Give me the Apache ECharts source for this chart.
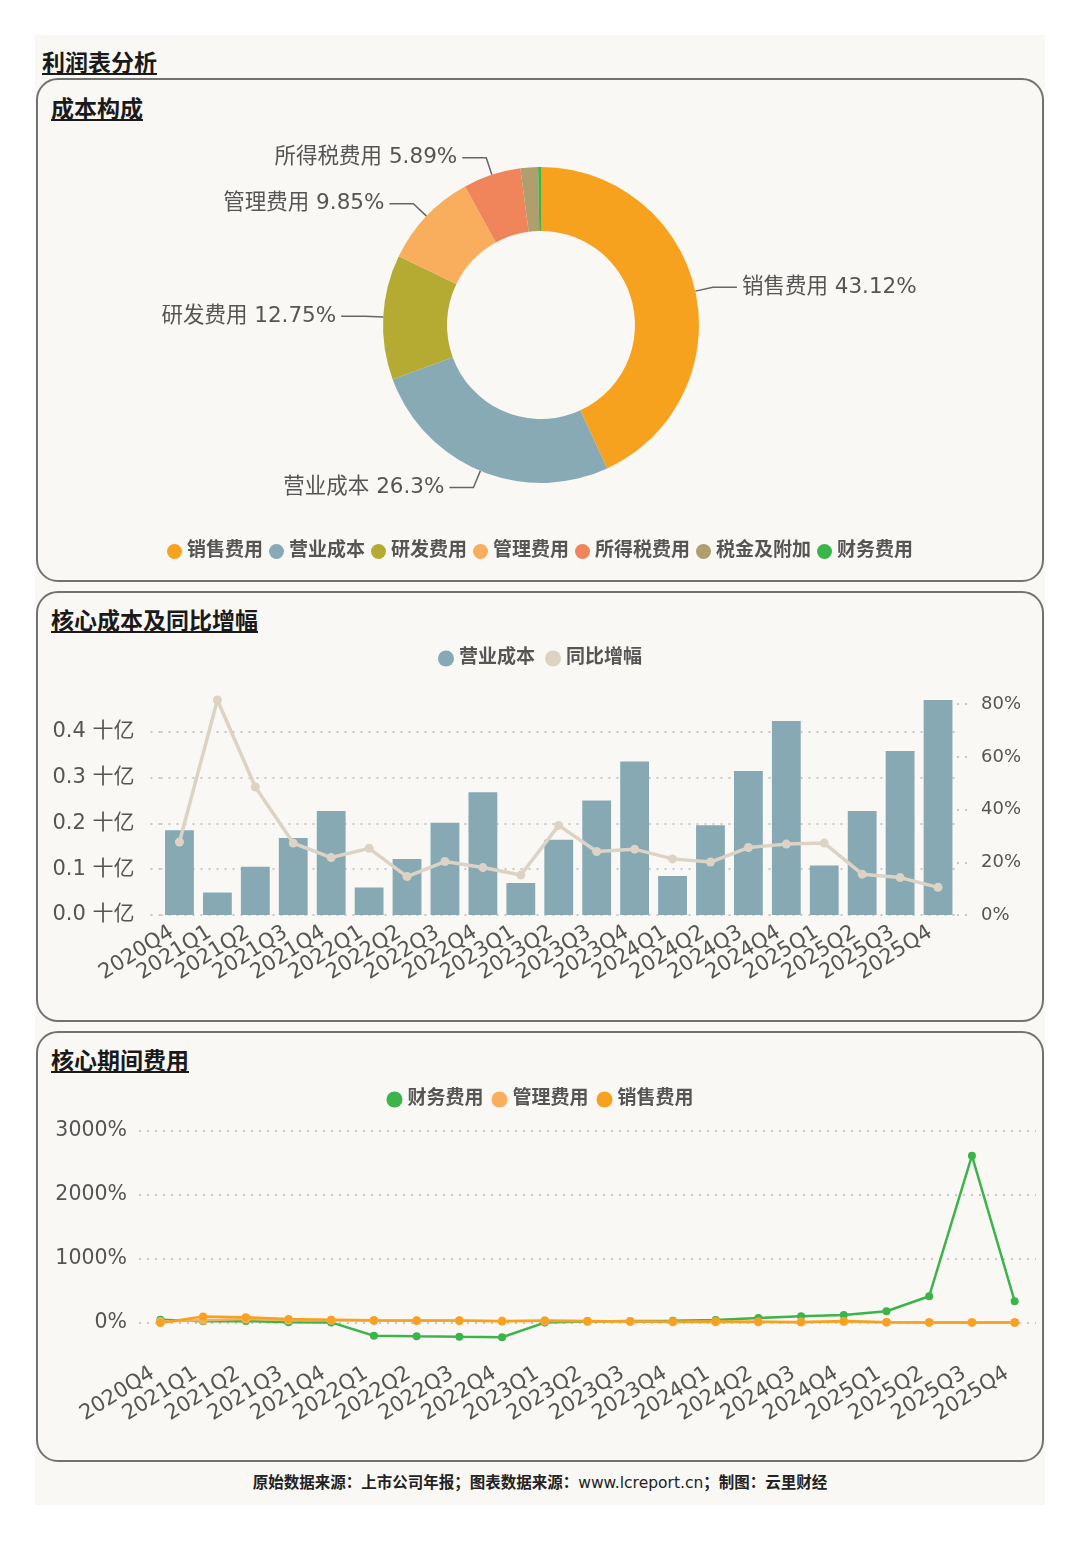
<!DOCTYPE html>
<html>
<head>
<meta charset="utf-8">
<script src="https://cdn.jsdelivr.net/npm/echarts@6/dist/echarts.min.js"></script>
<style>
  body { margin: 0; width: 1080px; height: 1541px; position: relative; background: #fff;
         font-family: "DejaVu Sans", "Noto Sans CJK SC", sans-serif; }
  #panel { position: absolute; left: 35px; top: 35px; width: 1010px; height: 1470px; background: #faf8f5; }
  .box { position: absolute; left: 36px; width: 1008px; border: 2px solid #727272; border-radius: 22px; box-sizing: border-box; }
  .title { position: absolute; font-weight: bold; text-decoration: underline; color: #1a1a1a; white-space: nowrap; font-size: 23px; }
  .chart { position: absolute; left: 36px; width: 1008px; }
  #footer { position: absolute; left: 0; width: 1080px; top: 1470px; text-align: center; font-size: 15.5px;
            font-weight: bold; color: #222; }
  #footer span { font-weight: normal; }
</style>
</head>
<body>
<div id="panel"></div>
<div class="title" style="left:42px;top:44px;">利润表分析</div>

<div class="box" style="top:78px;height:504px;"></div>
<div class="title" style="left:51px;top:90px;">成本构成</div>
<div id="pie" class="chart" style="top:78px;height:504px;"></div>

<div class="box" style="top:591px;height:431px;"></div>
<div class="title" style="left:51px;top:602px;">核心成本及同比增幅</div>
<div id="bar" class="chart" style="top:591px;height:431px;"></div>

<div class="box" style="top:1031px;height:431px;"></div>
<div class="title" style="left:51px;top:1042px;">核心期间费用</div>
<div id="line" class="chart" style="top:1031px;height:431px;"></div>

<div id="footer">原始数据来源：上市公司年报；图表数据来源：<span>www.lcreport.cn</span>；制图：云里财经</div>

<script>
// 成本构成 (%)
var costNames = ['销售费用', '营业成本', '研发费用', '管理费用', '所得税费用', '税金及附加', '财务费用'];
var costShares = [43.12, 26.3, 12.75, 9.85, 5.89, 1.8, 0.29];
var costColors = ['#f7a21e', '#88aab5', '#b5aa32', '#f9ae5d', '#f0845a', '#b09e6e', '#3bb44a'];

// 季度
var quarters = ['2020Q4', '2021Q1', '2021Q2', '2021Q3', '2021Q4', '2022Q1', '2022Q2', '2022Q3', '2022Q4',
  '2023Q1', '2023Q2', '2023Q3', '2023Q4', '2024Q1', '2024Q2', '2024Q3', '2024Q4',
  '2025Q1', '2025Q2', '2025Q3', '2025Q4'];

// 营业成本 (十亿) 及同比增幅 (%)
var opCost = [0.185, 0.049, 0.105, 0.168, 0.227, 0.060, 0.122, 0.201, 0.268, 0.070, 0.164,
  0.250, 0.335, 0.085, 0.196, 0.314, 0.423, 0.108, 0.227, 0.358, 0.469];
var opCostYoY = [27.7, 81.6, 48.6, 27.3, 21.8, 25.3, 14.6, 20.3, 18.0, 15.2, 34.0,
  24.1, 25.0, 21.3, 20.1, 25.6, 26.9, 27.3, 15.5, 14.2, 10.5];

// 核心期间费用 (%)
var finExp = [50, 25, 30, 10, 8, -200, -210, -218, -225, 5, 20, 30, 35, 45, 78, 104, 125, 182, 417, 2615, 339];
var adminExp = [20, 40, 60, 45, 40, 35, 33, 33, 28, 30, 25, 20, 15, 18, 15, 15, 20, 12, 8, 8, 6];
var salesExp = [0, 100, 89, 60, 50, 40, 36, 36, 25, 38, 30, 22, 18, 22, 18, 12, 28, 10, 5, 5, 5];

var FONT = '"DejaVu Sans", "Noto Sans CJK SC", sans-serif';
var TXT = '#555';
var dotted = { type: [2, 6], color: '#b8b8b8', width: 1.5 };
var legendText = { fontSize: 19, fontWeight: 'bold', color: TXT, fontFamily: FONT };

var pieChart = echarts.init(document.getElementById('pie'));
pieChart.setOption({
  textStyle: { fontFamily: FONT },
  color: costColors,
  legend: {
    data: costNames,
    top: 459,
    left: 'center',
    icon: 'circle',
    itemWidth: 15, itemHeight: 15, itemGap: 6,
    textStyle: legendText
  },
  series: [{
    type: 'pie',
    center: [505, 247],
    radius: [94, 158],
    startAngle: 90,
    minShowLabelAngle: 10,
    data: costNames.map(function (n, i) { return { name: n, value: costShares[i] }; }),
    label: { formatter: '{b} {c}%', fontSize: 21.5, color: TXT, fontFamily: FONT },
    labelLine: { length: 18, length2: 24, lineStyle: { color: '#666', width: 1.5 } }
  }]
});

var barChart = echarts.init(document.getElementById('bar'));
barChart.setOption({
  textStyle: { fontFamily: FONT },
  legend: {
    data: ['营业成本', '同比增幅'],
    top: 53,
    left: 'center',
    icon: 'circle',
    itemWidth: 16, itemHeight: 16, itemGap: 10,
    textStyle: legendText
  },
  grid: { left: 124.5, right: 87, top: 109, bottom: 107 },
  xAxis: {
    type: 'category',
    data: quarters,
    axisLine: { show: false },
    axisTick: { show: false },
    axisLabel: { interval: 0, rotate: 32, fontSize: 21, color: TXT, margin: 11, padding: [0, 9, 0, 0] }
  },
  yAxis: [{
    type: 'value', min: 0, max: 'dataMax', interval: 0.1,
    axisLine: { show: false },
    axisTick: { show: true, length: 12, lineStyle: dotted },
    axisLabel: { fontSize: 21, color: TXT, margin: 26, showMaxLabel: false,
      formatter: function (v) { return v.toFixed(1) + ' 十亿'; } },
    splitLine: { show: true, showMaxLine: false, lineStyle: dotted }
  }, {
    type: 'value', min: 0, max: 'dataMax', interval: 20,
    axisLine: { show: false },
    axisTick: { show: true, length: 10, lineStyle: dotted },
    axisLabel: { fontSize: 18, color: TXT, margin: 24, showMaxLabel: false, formatter: '{value}%' },
    splitLine: { show: false }
  }],
  series: [{
    name: '营业成本', type: 'bar', data: opCost, barWidth: '76%',
    itemStyle: { color: '#86a9b4' }
  }, {
    name: '同比增幅', type: 'line', yAxisIndex: 1, data: opCostYoY,
    symbol: 'circle', symbolSize: 9,
    itemStyle: { color: '#ddd3c4' },
    lineStyle: { color: '#ddd3c4', width: 3.5 }
  }]
});

var lineChart = echarts.init(document.getElementById('line'));
lineChart.setOption({
  textStyle: { fontFamily: FONT },
  legend: {
    data: ['财务费用', '管理费用', '销售费用'],
    top: 54,
    left: 'center',
    icon: 'circle',
    itemWidth: 16, itemHeight: 16, itemGap: 8,
    textStyle: legendText
  },
  grid: { left: 103, right: 8, top: 100, bottom: 102 },
  xAxis: {
    type: 'category',
    data: quarters,
    axisLine: { show: false, onZero: false },
    axisTick: { show: false },
    axisLabel: { interval: 0, rotate: 32, fontSize: 21, color: TXT, margin: 7, padding: [0, 9, 0, 0] }
  },
  yAxis: {
    type: 'value', min: -580, max: 3000, splitNumber: 3,
    axisLine: { show: false },
    axisTick: { show: false },
    axisLabel: { fontSize: 20.5, color: TXT, margin: 12, showMinLabel: false,
      formatter: function (v) { return v + '%'; } },
    splitLine: { show: true, showMinLine: false, lineStyle: dotted }
  },
  series: [{
    name: '财务费用', type: 'line', data: finExp, symbol: 'circle', symbolSize: 8,
    itemStyle: { color: '#3bb44a' }, lineStyle: { width: 2.5 }
  }, {
    name: '管理费用', type: 'line', data: adminExp, symbol: 'circle', symbolSize: 9,
    itemStyle: { color: '#f9ae5d' }, lineStyle: { width: 2.5 }
  }, {
    name: '销售费用', type: 'line', data: salesExp, symbol: 'circle', symbolSize: 8,
    itemStyle: { color: '#f7a21e' }, lineStyle: { width: 2.5 }
  }]
});
</script>
</body>
</html>
